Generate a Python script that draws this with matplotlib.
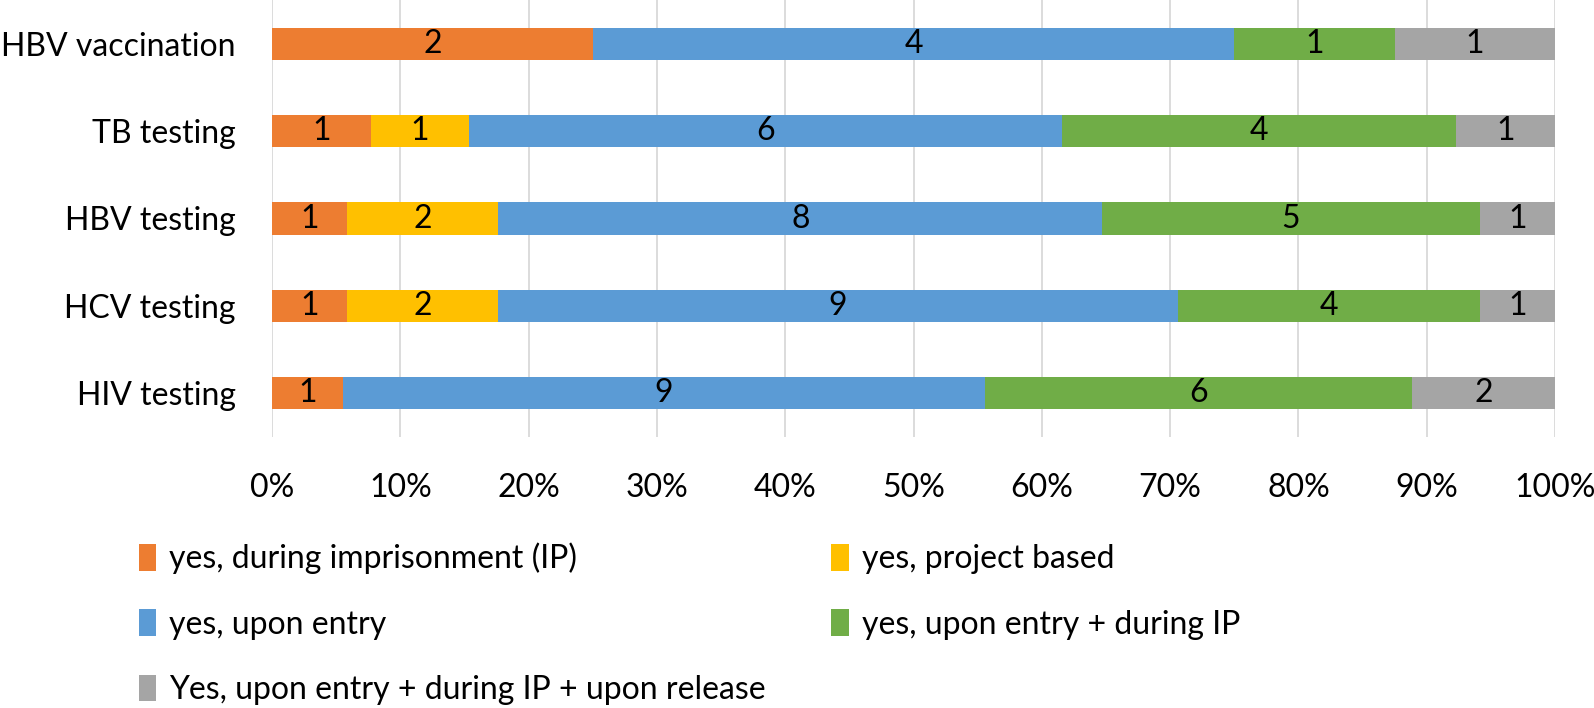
import matplotlib.pyplot as plt
import numpy as np
from matplotlib.ticker import PercentFormatter

plt.rcParams['font.family'] = ['Lato', 'DejaVu Sans']

categories = ["HBV vaccination", "TB testing", "HBV testing", "HCV testing", "HIV testing"]
series = ["yes, during imprisonment (IP)", "yes, project based", "yes, upon entry",
          "yes, upon entry + during IP", "Yes, upon entry + during IP + upon release"]
during_ip = [2, 1, 1, 1, 1]
project = [0, 1, 2, 2, 0]
entry = [4, 6, 8, 9, 9]
entry_ip = [1, 4, 5, 4, 6]
entry_ip_release = [1, 1, 1, 1, 2]
colors = ["#ED7D31", "#FFC000", "#5B9BD5", "#70AD47", "#A5A5A5"]

counts = np.array([during_ip, project, entry, entry_ip, entry_ip_release], dtype=float)
totals = counts.sum(axis=0)
shares = counts / totals * 100

fs = 23
fig = plt.figure(figsize=(15.94, 7.08), dpi=100)
ax = fig.add_axes([272 / 1594, 1 - 437 / 708, (1555 - 272) / 1594, 437 / 708])

y = np.arange(len(categories))
left = np.zeros(len(categories))
handles = []
for i, name in enumerate(series):
    bars = ax.barh(y, shares[i], left=left, height=0.37, color=colors[i], label=name, zorder=3)
    handles.append(bars)
    for j in range(len(categories)):
        if counts[i, j] > 0:
            ax.text(left[j] + shares[i, j] / 2, y[j], f"{int(counts[i, j])}",
                    ha="center", va="center", fontsize=fs, color="black", zorder=4)
    left += shares[i]

ax.set_xlim(0, 100)
ax.set_ylim(len(categories) - 0.5, -0.5)
ax.set_yticks(y)
ax.set_yticklabels(categories, fontsize=fs)
ax.set_xticks(np.arange(0, 101, 10))
ax.xaxis.set_major_formatter(PercentFormatter(decimals=0))
ax.tick_params(axis="x", labelsize=fs, length=0, pad=26)
ax.tick_params(axis="y", length=0, pad=26)
ax.grid(axis="x", color="#D9D9D9", linewidth=1.3, zorder=0)
for s in ax.spines.values():
    s.set_visible(False)

# row-major order like the original legend
order = [0, 2, 4, 1, 3]
fig.legend([handles[k] for k in order], [series[k] for k in order], ncol=2,
           loc="upper left", bbox_to_anchor=(110 / 1594, 1 - 514 / 708), frameon=False,
           fontsize=fs, handlelength=0.55, handleheight=0.9, handletextpad=0.4,
           columnspacing=2.05, labelspacing=1.1)

fig.savefig("out.png", dpi=100)
